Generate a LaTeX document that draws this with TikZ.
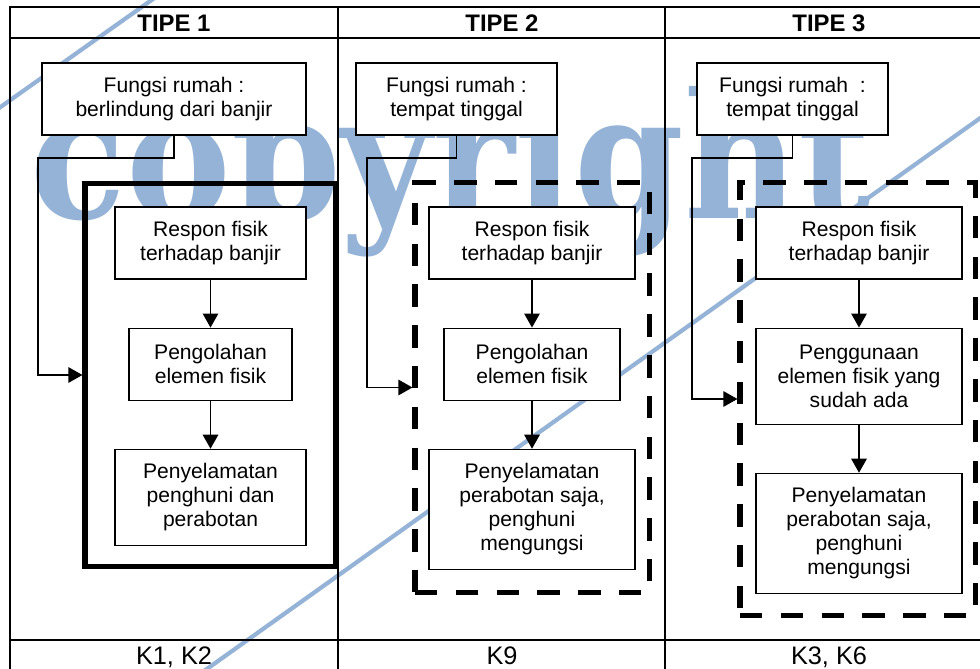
\documentclass[tikz,border=0pt]{standalone}
\usepackage{fontspec}
\setmainfont{Liberation Sans}
\newfontfamily\wmfont{DejaVu Serif}
\usepackage{graphicx}
\usetikzlibrary{positioning, arrows.meta}

\begin{document}
\begin{tikzpicture}[x=0.025cm, y=-0.025cm, node distance=1.2cm, >={Triangle[length=10pt, width=11pt]}, line width=1.1pt,
        flowbox/.style={draw, fill=white, align=center, line width=0.8pt, minimum height=1.8cm, inner sep=2pt, font=\fontsize{15}{17}\selectfont},
        typeframe/.style={draw, line width=3.6pt},
        wmline/.style={draw=wmblue, line width=3pt}]
        % Define colors
        \definecolor{wmblue}{RGB}{149, 179, 215}

        \useasboundingbox (0,0) rectangle (980,669);

        % Watermark
        \node[anchor=base west, inner sep=0pt, text=wmblue] (wmark) at (30,219) {\resizebox{21cm}{3.3cm}{\wmfont\bfseries copyright}};
        \draw[wmline] (170,-13) -- (-15,118);
        \draw[wmline] (1000,104) -- (190,681);

        % Table
        \draw (10,680) -- (10,7) -- (990,7);
        \draw (10,38) -- (990,38);
        \draw (10,640) -- (990,640);
        \draw (338,7) -- (338,680);
        \draw (665,7) -- (665,680);
        \foreach \i/\x in {1/174, 2/502, 3/829} {
            \node[anchor=base, font=\fontsize{17}{20}\selectfont\bfseries] (tipe\i) at (\x,32) {TIPE \i};
        }
        \node[anchor=base, font=\fontsize{18}{21}\selectfont] (kode1) at (174,664) {K1, K2};
        \node[anchor=base, font=\fontsize{18}{21}\selectfont] (kode2) at (502,664) {K9};
        \node[anchor=base, font=\fontsize{18}{21}\selectfont] (kode3) at (829,664) {K3, K6};

        % Nodes, tipe 1
        \node[flowbox, minimum width=6.6cm] (fungsi1) at (174,99) {Fungsi rumah :\\berlindung dari banjir};
        \node[flowbox, minimum width=4.775cm] (respon1) at (210.5,243) {Respon fisik\\terhadap banjir};
        \node[flowbox, minimum width=4.075cm, below=of respon1] (elemen1) {Pengolahan\\elemen fisik};
        \node[flowbox, minimum width=4.775cm, minimum height=2.4cm, below=of elemen1] (selamat1) {Penyelamatan\\penghuni dan\\perabotan};
        \node[typeframe, minimum width=6.25cm, minimum height=9.55cm] (frame1) at (210,375) {};
        \coordinate (bend1) at (38,158);

        % Nodes, tipe 2
        \node[flowbox, minimum width=5.025cm] (fungsi2) at (456.5,99) {Fungsi rumah :\\tempat tinggal};
        \node[flowbox, minimum width=5.15cm] (respon2) at (532,243) {Respon fisik\\terhadap banjir};
        \node[flowbox, minimum width=4.4cm, below=of respon2] (elemen2) {Pengolahan\\elemen fisik};
        \node[flowbox, minimum width=5.15cm, minimum height=3cm, below=of elemen2] (selamat2) {Penyelamatan\\perabotan saja,\\penghuni\\mengungsi};
        \node[typeframe, dash pattern=on 16pt off 13pt, minimum width=5.85cm, minimum height=10.225cm] (frame2) at (532,387.5) {};
        \coordinate (bend2) at (367,158);

        % Nodes, tipe 3
        \node[flowbox, minimum width=4.775cm] (fungsi3) at (792.5,99) {Fungsi rumah\ \ :\\tempat tinggal};
        \node[flowbox, minimum width=5.15cm] (respon3) at (859,243) {Respon fisik\\terhadap banjir};
        \node[flowbox, minimum width=5.15cm, minimum height=2.4cm, below=of respon3] (elemen3) {Penggunaan\\elemen fisik yang\\sudah ada};
        \node[flowbox, minimum width=5.15cm, minimum height=3cm, below=of elemen3] (selamat3) {Penyelamatan\\perabotan saja,\\penghuni\\mengungsi};
        \node[typeframe, dash pattern=on 16pt off 13pt, minimum width=5.875cm, minimum height=10.8cm] (frame3) at (857.5,399) {};
        \coordinate (bend3) at (692,158);

        % Edges
        \foreach \i in {1,...,3} {
            \draw[->] (fungsi\i.south) |- (bend\i) |- (frame\i.west);
            \draw[->] (respon\i) -- (elemen\i);
            \draw[->] (elemen\i) -- (selamat\i);
        }
    \end{tikzpicture}
\end{document}
